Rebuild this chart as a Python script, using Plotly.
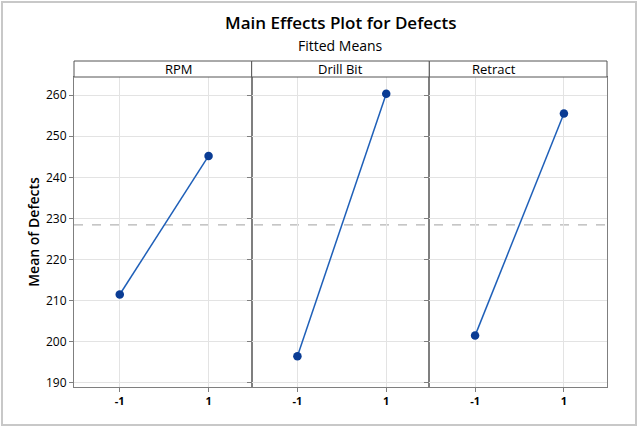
import plotly.graph_objects as go
from plotly.subplots import make_subplots

factors = ["RPM", "Drill Bit", "Retract"]
levels = [-1, 1]
means = {
    "RPM": [211.5, 245.2],
    "Drill Bit": [196.5, 260.3],
    "Retract": [201.5, 255.5],
}
y_ticks = [190, 200, 210, 220, 230, 240, 250, 260]
x_tick_labels = ["-1", "1"]

all_vals = [v for f in factors for v in means[f]]
grand_mean = sum(all_vals) / len(all_vals)

W, H = 639, 427
ML, MR, MT, MB = 74, 32, 77, 40
PW, PH = W - ML - MR, H - MT - MB

fig = make_subplots(rows=1, cols=3, shared_yaxes=True, horizontal_spacing=0)

font_family = "Open Sans, Noto Sans, sans-serif"
line_col = "#1E5FB8"
marker_col = "#0A3C94"
axis_col = "#7F7F7F"
grid_col = "#E3E3E3"

for i, f in enumerate(factors, start=1):
    fig.add_trace(
        go.Scatter(
            x=levels, y=means[f], mode="lines+markers",
            line=dict(color=line_col, width=1.5),
            marker=dict(color=marker_col, size=8.5, line=dict(color=marker_col, width=0)),
            showlegend=False, hoverinfo="x+y",
        ),
        row=1, col=i,
    )
    fig.update_xaxes(
        range=[-2.03, 1.97], tickvals=levels, ticktext=x_tick_labels,
        showgrid=True, gridcolor=grid_col, gridwidth=1,
        showline=True, linecolor=axis_col, linewidth=1, mirror=True,
        ticks="outside", ticklen=4, tickcolor=axis_col,
        tickfont=dict(family=font_family, size=11, color="#000000", weight="bold"),
        zeroline=False,
        row=1, col=i,
    )

fig.update_yaxes(
    range=[189.0, 264.4], tickvals=y_ticks,
    showgrid=True, gridcolor=grid_col, gridwidth=1,
    showline=True, linecolor=axis_col, linewidth=1, mirror=True,
    ticks="outside", ticklen=4, tickcolor=axis_col,
    tickfont=dict(family=font_family, size=12, color="#000000"),
    zeroline=False,
)
fig.update_yaxes(
    title=dict(text="Mean of Defects", font=dict(family=font_family, size=14, color="#000000", weight=600), standoff=3),
    row=1, col=1,
)

# grand mean reference line across all panels
fig.add_shape(type="line", xref="paper", yref="y", x0=0, x1=1, y0=grand_mean, y1=grand_mean,
              line=dict(color="#B4B4B4", width=1.2, dash="dash"), layer="below")

# strip headers
domains = [fig.layout.xaxis.domain, fig.layout.xaxis2.domain, fig.layout.xaxis3.domain]
strip_h = 16 / PH
for f, d in zip(factors, domains):
    fig.add_shape(type="rect", xref="paper", yref="paper", x0=d[0], x1=d[1], y0=1, y1=1 + strip_h,
                  line=dict(color="#555555", width=1), fillcolor="white")
    fig.add_annotation(x=(d[0] + d[1]) / 2, y=1 + strip_h / 2, xref="paper", yref="paper",
                       text=f, showarrow=False, yanchor="middle",
                       font=dict(family=font_family, size=13, color="#000000"))

# titles
fig.add_annotation(x=0.5, y=1 + (MT - 23) / PH, xref="paper", yref="paper", yanchor="middle",
                   text="Main Effects Plot for Defects", showarrow=False,
                   font=dict(family=font_family, size=17, color="#000000", weight=600))
fig.add_annotation(x=0.5, y=1 + (MT - 46) / PH, xref="paper", yref="paper", yanchor="middle",
                   text="Fitted Means", showarrow=False,
                   font=dict(family=font_family, size=14, color="#000000"))

# outer frame
fig.add_shape(type="rect", xref="paper", yref="paper",
              x0=-(ML - 2) / PW, x1=1 + (MR - 3) / PW, y0=-(MB - 2) / PH, y1=1 + (MT - 2) / PH,
              line=dict(color="#C8C8C8", width=2), fillcolor="rgba(0,0,0,0)")

fig.update_layout(
    width=W, height=H,
    margin=dict(l=ML, r=MR, t=MT, b=MB),
    paper_bgcolor="white", plot_bgcolor="white",
)

fig.write_html("out.html")
